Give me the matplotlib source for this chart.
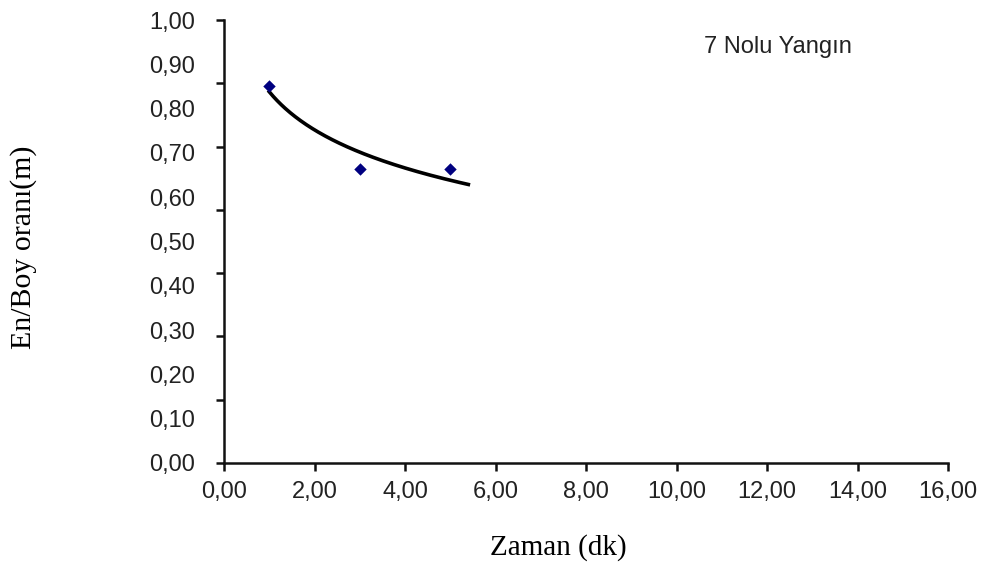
import numpy as np
import matplotlib
matplotlib.use("Agg")
import matplotlib.pyplot as plt
from matplotlib.ticker import FixedLocator, FuncFormatter, NullFormatter

# Data
zaman = [1.0, 3.0, 5.0]
en_boy = [0.85, 0.664, 0.664]
trend_x_end = 5.4
x_ticks = [0, 2, 4, 6, 8, 10, 12, 14, 16]
y_tick_labels = [0.0, 0.1, 0.2, 0.3, 0.4, 0.5, 0.6, 0.7, 0.8, 0.9, 1.0]
y_tick_marks_n = 8
title = "7 Nolu Yangın"
xlabel = "Zaman (dk)"
ylabel = "En/Boy oranı(m)"

fig = plt.figure(figsize=(10.02, 5.69), dpi=100)
ax = fig.add_axes([224/1002, 1-463/569, (948-224)/1002, (463-20)/569])

# logarithmic trendline fitted to the data
b, a = np.polyfit(np.log(zaman), en_boy, 1)
xt = np.linspace(min(zaman), trend_x_end, 200)
ax.plot(xt, a + b*np.log(xt), color="black", lw=2.6, zorder=2)
ax.scatter(zaman, en_boy, marker="D", s=40, color="#000080", zorder=3, linewidths=0)

ax.set_xlim(0, 16)
ax.set_ylim(0, 1.0)
fmt = FuncFormatter(lambda v, p: f"{v:.2f}".replace(".", ","))
ax.xaxis.set_major_locator(FixedLocator(x_ticks))
ax.xaxis.set_major_formatter(fmt)
# tick marks on y (7 intervals) and labels every 0.1
ax.yaxis.remove_overlapping_locs = False
ax.yaxis.set_major_locator(FixedLocator(np.linspace(0, 1, y_tick_marks_n)))
ax.yaxis.set_major_formatter(NullFormatter())
ax.yaxis.set_minor_locator(FixedLocator(y_tick_labels))
ax.yaxis.set_minor_formatter(fmt)

for s in ["top", "right"]:
    ax.spines[s].set_visible(False)
for s in ["left", "bottom"]:
    ax.spines[s].set_linewidth(1.8)
    ax.spines[s].set_color("#111111")

ax.tick_params(axis="both", which="major", direction="out", length=6, width=1.8,
               color="#111111", labelsize=17, labelcolor="#222222")
ax.tick_params(axis="x", pad=7)
ax.tick_params(axis="y", which="minor", length=0, pad=21, labelsize=17,
               labelcolor="#222222")
for lbl in ax.get_xticklabels() + ax.get_yticklabels(minor=True):
    lbl.set_fontfamily("Liberation Sans")

fig.text(778/1002, 1-47/569, title, ha="center", va="center",
         fontsize=17, family="Liberation Sans", color="#222222")
fig.text(558/1002, 1-548/569, xlabel, ha="center", va="center",
         fontsize=21, family="Liberation Serif")
fig.text(24/1002, 1-247/569, ylabel, ha="center", va="center", rotation=90,
         fontsize=21.5, family="Liberation Serif")

fig.savefig("out.png", dpi=100)
